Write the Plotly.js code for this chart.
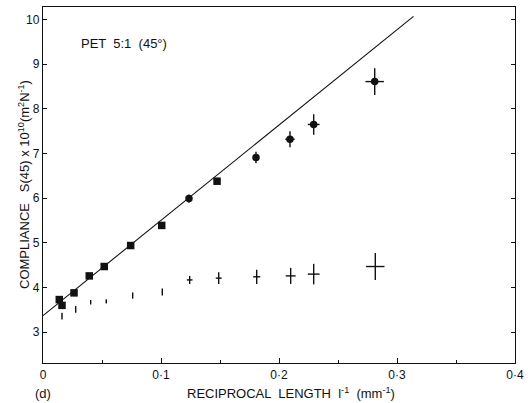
<!DOCTYPE html>
<html>
<head>
<meta charset="utf-8">
<script src="https://cdn.plot.ly/plotly-3.0.1.min.js"></script>
<style>html,body{margin:0;padding:0;background:#fff;}#chart{width:528px;height:403px;}</style>
</head>
<body>
<div id="chart"></div>
<script>
// Upper series (filled markers)
const upperX = [0.0138, 0.0161, 0.0263, 0.0392, 0.0519, 0.0743, 0.1006, 0.1237, 0.1475, 0.1805, 0.2093, 0.2294, 0.2811];
const upperY = [3.73, 3.60, 3.88, 4.26, 4.47, 4.94, 5.39, 5.99, 6.38, 6.91, 7.32, 7.65, 8.61];
const upperErrY = [0.03, 0.03, 0.03, 0.03, 0.03, 0.04, 0.05, 0.09, 0.07, 0.13, 0.18, 0.23, 0.30];
const upperErrX = [0, 0, 0, 0, 0, 0, 0, 0.0015, 0.0015, 0.0025, 0.004, 0.005, 0.0078];
const upperSymbols = ['square','square','square','square','square','square','square','circle','square','circle','circle','circle','circle'];

// Lower series (error crosses only)
const lowerX = [0.0161, 0.0277, 0.0404, 0.0536, 0.0760, 0.1011, 0.1243, 0.1489, 0.1811, 0.2099, 0.2294, 0.2816];
const lowerY = [3.36, 3.51, 3.67, 3.69, 3.82, 3.90, 4.17, 4.21, 4.24, 4.26, 4.30, 4.47];
const lowerErrY = [0.075, 0.075, 0.05, 0.05, 0.07, 0.08, 0.09, 0.13, 0.16, 0.18, 0.23, 0.30];
const lowerErrX = [0, 0, 0, 0, 0, 0, 0.0024, 0.0025, 0.003, 0.0042, 0.005, 0.0078];

// Fitted straight line
const fitX = [0, 0.314];
const fitY = [3.37, 10.07];

const xTickVals = [0, 0.1, 0.2, 0.3, 0.4];
const xTickText = ['0', '0\u00b71', '0\u00b72', '0\u00b73', '0\u00b74'];
const yTickVals = [3, 4, 5, 6, 7, 8, 9, 10];
const yTickText = ['3', '4', '5', '6', '7', '8', '9', '10'];

const FONT = 'Liberation Sans, Arial, sans-serif';

const traces = [
  {
    x: fitX, y: fitY, type: 'scatter', mode: 'lines',
    line: {color: '#111', width: 1.1}, hoverinfo: 'skip'
  },
  {
    x: lowerX, y: lowerY, type: 'scatter', mode: 'markers',
    marker: {size: 1, color: '#111'},
    error_y: {type: 'data', array: lowerErrY, visible: true, color: '#111', thickness: 1.4, width: 0},
    error_x: {type: 'data', array: lowerErrX, visible: true, color: '#111', thickness: 1.4, width: 0}
  },
  {
    x: upperX, y: upperY, type: 'scatter', mode: 'markers',
    marker: {size: 7.5, color: '#111', symbol: upperSymbols},
    error_y: {type: 'data', array: upperErrY, visible: true, color: '#111', thickness: 1.4, width: 0},
    error_x: {type: 'data', array: upperErrX, visible: true, color: '#111', thickness: 1.4, width: 0}
  }
];

const layout = {
  width: 528, height: 403,
  margin: {l: 43, r: 13, t: 7, b: 40},
  paper_bgcolor: '#fff', plot_bgcolor: '#fff',
  showlegend: false,
  font: {family: FONT, size: 12, color: '#111'},
  xaxis: {
    range: [0, 0.4], showgrid: false, zeroline: false,
    showline: true, linecolor: '#111', linewidth: 1.2, mirror: true,
    ticks: 'inside', ticklen: 5, tickwidth: 1, tickcolor: '#111',
    tickvals: xTickVals, ticktext: xTickText,
    minor: {dtick: 0.05, ticks: 'inside', ticklen: 3, tickcolor: '#111', showgrid: false},
    tickfont: {family: FONT, size: 12, color: '#111'},
    automargin: false
  },
  yaxis: {
    range: [2.31, 10.28], showgrid: false, zeroline: false,
    showline: true, linecolor: '#111', linewidth: 1.2, mirror: 'all',
    ticks: 'inside', ticklen: 4, tickwidth: 1, tickcolor: '#111',
    tickvals: yTickVals, ticktext: yTickText,
    tickfont: {family: FONT, size: 12, color: '#111'},
    ticklabelstandoff: 0,
    automargin: false
  },
  annotations: [
    {x: 0.0305, y: 9.46, xref: 'x', yref: 'y', text: 'PET  5:1  (45\u00b0)', showarrow: false,
     xanchor: 'left', yanchor: 'middle', font: {family: FONT, size: 13, color: '#111'}},
    {x: 0.525, y: 0, xref: 'paper', yref: 'paper', yshift: -30, xanchor: 'center', yanchor: 'middle',
     text: 'RECIPROCAL  LENGTH  l<sup>-1</sup>  (mm<sup>-1</sup>)', showarrow: false,
     font: {family: FONT, size: 13, color: '#111'}},
    {x: 0, y: 0, xref: 'paper', yref: 'paper', yshift: -30, xanchor: 'center', yanchor: 'middle',
     text: '(d)', showarrow: false, font: {family: FONT, size: 13, color: '#111'}},
    {x: 0, y: 0.5, xref: 'paper', yref: 'paper', xshift: -19, yshift: 0, textangle: -90,
     xanchor: 'center', yanchor: 'middle',
     text: 'COMPLIANCE   S(45) x 10<sup>10</sup>(m<sup>2</sup>N<sup>-1</sup>)', showarrow: false,
     font: {family: FONT, size: 13, color: '#111'}}
  ]
};

Plotly.newPlot('chart', traces, layout, {displayModeBar: false, staticPlot: true});
</script>
</body>
</html>
